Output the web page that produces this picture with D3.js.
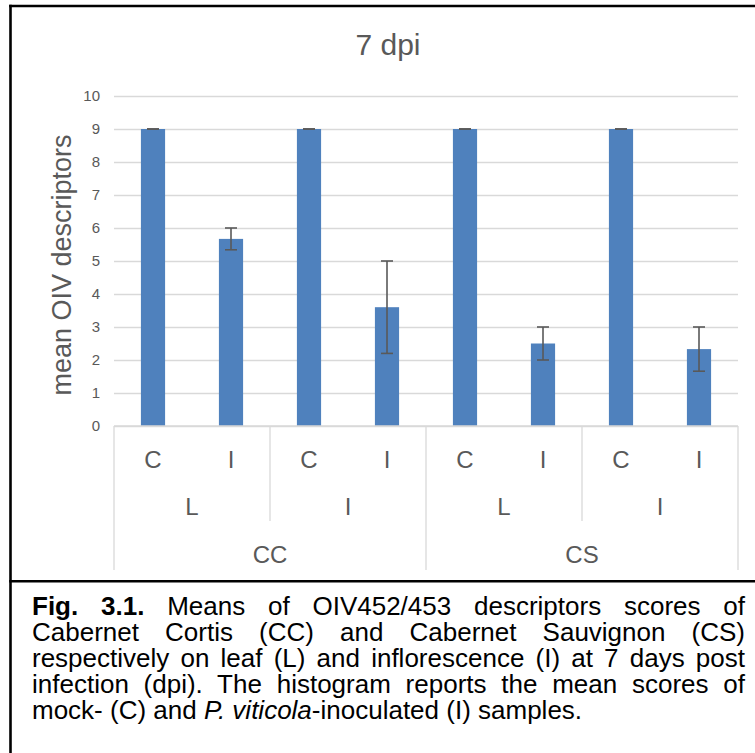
<!DOCTYPE html>
<html lang="en">
<head>
  <title>7 dpi</title>
  <script src="https://cdn.jsdelivr.net/npm/d3@7"></script>
  <style>
    body { margin: 0; background: #fff; }
    svg { display: block; font-family: "Liberation Sans", Arial, sans-serif; }
  </style>
</head>
<body>
  <script>
    // the data
    const cultivars = ["CC", "CS"];
    const organs = ["L", "I"];
    const treatments = ["C", "I"];
    const means = [9, 5.67, 9, 3.6, 9, 2.5, 9, 2.33];
    const errors = [0, 0.33, 0, 1.4, 0, 0.5, 0, 0.67];
    const yTicks = [0, 1, 2, 3, 4, 5, 6, 7, 8, 9, 10];
    const chartTitle = "7 dpi";
    const yTitle = "mean OIV descriptors";
    const captionLines = [
      [["Fig. 3.1.", "bold"], [" Means of OIV452/453 descriptors scores of", ""]],
      [["Cabernet Cortis (CC) and Cabernet Sauvignon (CS)", ""]],
      [["respectively on leaf (L) and inflorescence (I) at 7 days post", ""]],
      [["infection (dpi). The histogram reports the mean scores of", ""]],
      [["mock- (C) and ", ""], ["P. viticola", "italic"], ["-inoculated (I) samples.", ""]]
    ];

    // build rows: cultivar > organ > treatment
    let rows = [];
    cultivars.forEach(cv => organs.forEach(org => treatments.forEach(tr => {
      let i = rows.length;
      rows.push({ key: cv + "-" + org + "-" + tr, cv: cv, org: org, tr: tr, mean: means[i], err: errors[i] });
    })));
    let organKeys = [];
    cultivars.forEach(cv => organs.forEach(org => organKeys.push(cv + "-" + org)));

    const W = 755, H = 753;
    const plot = { left: 114, right: 738, top: 96, bottom: 426 };
    const grey = "#595959", light = "#d9d9d9";

    let svg = d3.select("body").append("svg")
      .attr("width", W).attr("height", H);
    svg.append("rect").attr("width", W).attr("height", H).attr("fill", "#fff");

    // scales
    let x = d3.scaleBand().domain(rows.map(d => d.key)).range([plot.left, plot.right]);
    let xOrgan = d3.scaleBand().domain(organKeys).range([plot.left, plot.right]);
    let xCv = d3.scaleBand().domain(cultivars).range([plot.left, plot.right]);
    let y = d3.scaleLinear().domain([0, 10]).range([plot.bottom, plot.top]);
    let barW = x.bandwidth() * 0.31;

    // gridlines
    let grid = svg.append("g")
      .attr("transform", `translate(${plot.left},0)`)
      .call(d3.axisLeft(y).tickValues(yTicks).tickSize(-(plot.right - plot.left)).tickFormat(""));
    grid.select(".domain").remove();
    grid.selectAll("line").attr("stroke", light).attr("stroke-width", 1.3);

    // y tick labels
    let yAxisG = svg.append("g")
      .attr("transform", `translate(${plot.left},0)`)
      .call(d3.axisLeft(y).tickValues(yTicks).tickSize(0).tickPadding(14));
    yAxisG.select(".domain").remove();
    yAxisG.selectAll("text").attr("fill", grey).attr("font-size", 15)
      .attr("font-family", "Liberation Sans, Arial, sans-serif");

    // bars
    svg.selectAll(".bar").data(rows).join("rect")
      .attr("class", "bar")
      .attr("x", d => x(d.key) + (x.bandwidth() - barW) / 2)
      .attr("y", d => y(d.mean))
      .attr("width", barW)
      .attr("height", d => y(0) - y(d.mean))
      .attr("fill", "#4f81bd");

    // error bars
    let eb = svg.selectAll(".err").data(rows).join("g").attr("class", "err")
      .attr("stroke", grey).attr("stroke-width", 1.6);
    let cx = d => x(d.key) + x.bandwidth() / 2;
    eb.append("line")
      .attr("x1", cx).attr("x2", cx)
      .attr("y1", d => y(d.mean + d.err)).attr("y2", d => y(d.mean - d.err));
    eb.append("line")
      .attr("x1", d => cx(d) - 6).attr("x2", d => cx(d) + 6)
      .attr("y1", d => y(d.mean + d.err)).attr("y2", d => y(d.mean + d.err));
    eb.append("line")
      .attr("x1", d => cx(d) - 6).attr("x2", d => cx(d) + 6)
      .attr("y1", d => y(d.mean - d.err)).attr("y2", d => y(d.mean - d.err));

    // multi-level category axis
    let cat = svg.append("g").attr("stroke", light).attr("stroke-width", 1.3);
    cat.append("line").attr("x1", plot.left).attr("x2", plot.right)
      .attr("y1", plot.bottom).attr("y2", plot.bottom);
    let cvEdges = cultivars.map(c => xCv(c)).concat([plot.right]);
    cat.selectAll(".cvsep").data(cvEdges).join("line")
      .attr("x1", d => d).attr("x2", d => d)
      .attr("y1", plot.bottom).attr("y2", 570);
    let orgEdges = organKeys.map(k => xOrgan(k)).filter(v => !cvEdges.includes(v));
    cat.selectAll(".orgsep").data(orgEdges).join("line")
      .attr("x1", d => d).attr("x2", d => d)
      .attr("y1", plot.bottom).attr("y2", 521);

    let labels = svg.append("g").attr("fill", grey).attr("font-size", 24).attr("text-anchor", "middle");
    labels.selectAll(".tr").data(rows).join("text")
      .attr("x", d => x(d.key) + x.bandwidth() / 2).attr("y", 468).text(d => d.tr);
    labels.selectAll(".org").data(organKeys).join("text")
      .attr("x", d => xOrgan(d) + xOrgan.bandwidth() / 2).attr("y", 515).text(d => d.split("-")[1]);
    labels.selectAll(".cv").data(cultivars).join("text")
      .attr("x", d => xCv(d) + xCv.bandwidth() / 2).attr("y", 563).text(d => d);

    // titles
    svg.append("text").attr("x", 388).attr("y", 55)
      .attr("text-anchor", "middle").attr("font-size", 30).attr("fill", grey)
      .text(chartTitle);
    svg.append("text")
      .attr("transform", "translate(71,265) rotate(-90)")
      .attr("text-anchor", "middle").attr("font-size", 27).attr("fill", grey)
      .text(yTitle);

    // frame lines
    let frame = svg.append("g").attr("stroke", "#000").attr("stroke-width", 2.6);
    frame.append("line").attr("x1", 10.5).attr("x2", 10.5).attr("y1", 4.7).attr("y2", H);
    frame.append("line").attr("x1", 9.2).attr("x2", W).attr("y1", 6).attr("y2", 6);
    frame.append("line").attr("x1", 9.2).attr("x2", W).attr("y1", 581.3).attr("y2", 581.3);

    // caption, justified line by line
    let capLeft = 32, capRight = 745;
    captionLines.forEach((line, i) => {
      let t = svg.append("text").attr("x", capLeft).attr("y", 615 + i * 26)
        .attr("font-size", 26).attr("fill", "#000");
      line.forEach(seg => {
        t.append("tspan").text(seg[0])
          .attr("font-weight", seg[1] == "bold" ? "bold" : null)
          .attr("font-style", seg[1] == "italic" ? "italic" : null);
      });
      if (i < captionLines.length - 1) {
        let w = t.node().getComputedTextLength();
        let spaces = line.map(s => s[0]).join("").split(" ").length - 1;
        t.attr("word-spacing", (capRight - capLeft - w) / spaces);
      }
    });
  </script>
</body>
</html>
